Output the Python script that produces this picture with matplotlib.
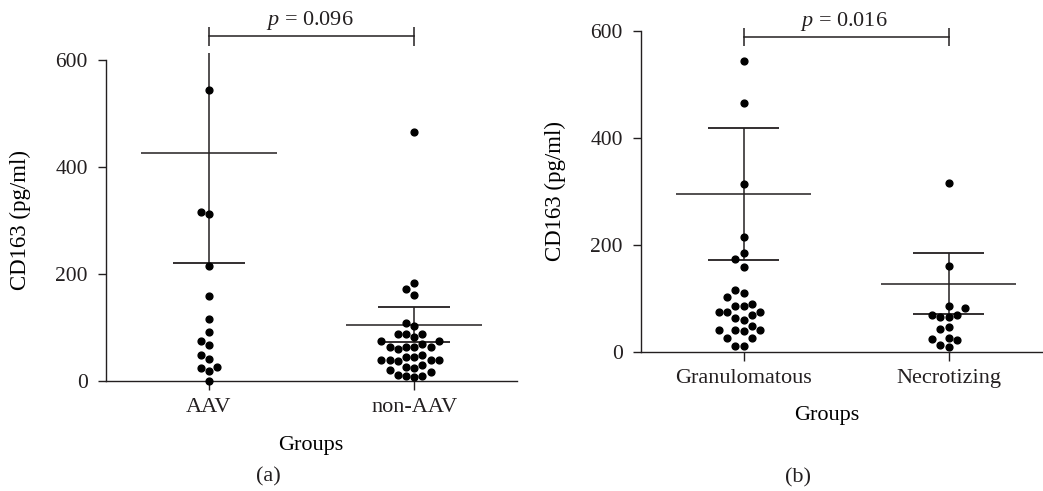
import numpy as np
import matplotlib
matplotlib.use("Agg")
import matplotlib.pyplot as plt

# ── Data ────────────────────────────────────────────────────
groups_a = ["AAV", "non-AAV"]
aav = [544, 316, 313, 215, 159, 116, 91, 75, 67, 49, 41, 27, 24, 19, 0]
non_aav = [466, 184, 172, 161, 109, 103, 87, 87, 87, 83, 75, 75, 69, 64, 64,
           64, 64, 59, 48, 45, 44, 40, 40, 40, 40, 38, 30, 27, 24, 21, 17,
           12, 9, 9, 7]
# mean, lower, upper of the error bars
stats_a = [(426, 220, 632), (105, 72, 138)]
p_a = "0.096"

groups_b = ["Granulomatous", "Necrotizing"]
granulomatous = [543, 465, 313, 215, 184, 173, 159, 115, 109, 102, 90, 86,
                 86, 75, 75, 75, 68, 63, 60, 48, 41, 41, 41, 39, 26, 26, 11, 11]
necrotizing = [316, 161, 86, 81, 69, 69, 65, 65, 46, 42, 26, 23, 21, 12, 8]
stats_b = [(294, 171, 418), (127, 70, 185)]
p_b = "0.016"

# ── Style ────────────────────────────────────────────────────
INK = "#231f20"
plt.rcParams.update({
    "font.family": "Liberation Serif",
    "mathtext.fontset": "custom",
    "mathtext.it": "Liberation Serif:italic",
    "mathtext.rm": "Liberation Serif",
    "text.color": INK,
    "axes.edgecolor": INK,
    "xtick.color": INK,
    "ytick.color": INK,
    "axes.linewidth": 1.0,
})
FS = 16          # labels
TS = 15.5        # tick labels
STEP = 0.04      # swarm column spacing (category units)
SEP = 17         # min vertical gap in a column (data units)


def swarm_x(values, center):
    cols = {}
    xs = []
    order = [0]
    for i in range(1, 10):
        order += [-i, i]
    for v in values:
        k = 0
        for c in order:
            if all(abs(v - u) >= SEP for u in cols.get(c, [])):
                k = c
                break
        cols.setdefault(k, []).append(v)
        xs.append(center + k * STEP)
    return xs


def panel(ax, names, series, stats, ptxt, ytop, bar_y, text_y, xlab_x):
    for i, vals in enumerate(series):
        vals = sorted(vals)
        ax.plot(swarm_x(vals, i), vals, "o", color="black", ms=4.9,
                clip_on=False, zorder=3)
    for i, (m, lo, hi) in enumerate(stats):
        ax.vlines(i, lo, hi, color=INK, lw=1.1)
        ax.hlines(m, i - 0.33, i + 0.33, color=INK, lw=1.1)
        ax.hlines(lo, i - 0.175, i + 0.175, color=INK, lw=1.3)
        if hi <= ytop:
            ax.hlines(hi, i - 0.175, i + 0.175, color=INK, lw=1.3)

    ax.set_xlim(-0.5, 1.5)
    ax.set_ylim(0, ytop)
    ax.spines["left"].set_bounds(0, 600)
    for s in ["top", "right"]:
        ax.spines[s].set_visible(False)
    ax.set_yticks([0, 200, 400, 600])
    ax.set_xticks([0, 1])
    ax.set_xticklabels(names)
    ax.tick_params(axis="y", length=6, width=1.0, pad=7, labelsize=TS)
    ax.tick_params(axis="x", length=6.5, width=1.0, pad=6, labelsize=FS)
    ax.set_ylabel("CD163 (pg/ml)", fontsize=FS + 0.5)
    ax.set_xlabel("Groups", fontsize=FS)
    ax.yaxis.set_label_coords(-0.183, 300 / ytop)
    ax.xaxis.set_label_coords(xlab_x, -0.17 * 600 / ytop)

    # significance bracket
    ax.plot([0, 1], [bar_y, bar_y], color=INK, lw=1.1, clip_on=False)
    ax.vlines([0, 1], bar_y - 17, bar_y + 17, color=INK, lw=1.1, clip_on=False)
    ax.text(0.49, text_y, f"$p$ = {ptxt}", ha="center", va="center",
            fontsize=FS, clip_on=False)


fig = plt.figure(figsize=(10.43, 4.91), dpi=100)
W, H = 1043, 491
ax1 = fig.add_axes([106 / W, (H - 381) / H, 411 / W, 328 / H])
ax2 = fig.add_axes([641 / W, (H - 351.7) / H, 410 / W, 321 / H])

panel(ax1, groups_a, [aav, non_aav], stats_a, p_a, 613, 644, 674, 0.499)
panel(ax2, groups_b, [granulomatous, necrotizing], stats_b, p_b, 600, 588, 618, 0.454)

fig.text(268 / W, 1 - 477 / H, "(a)", ha="center", va="center", fontsize=FS)
fig.text(798 / W, 1 - 478 / H, "(b)", ha="center", va="center", fontsize=FS)

fig.savefig("out.png", dpi=100)
